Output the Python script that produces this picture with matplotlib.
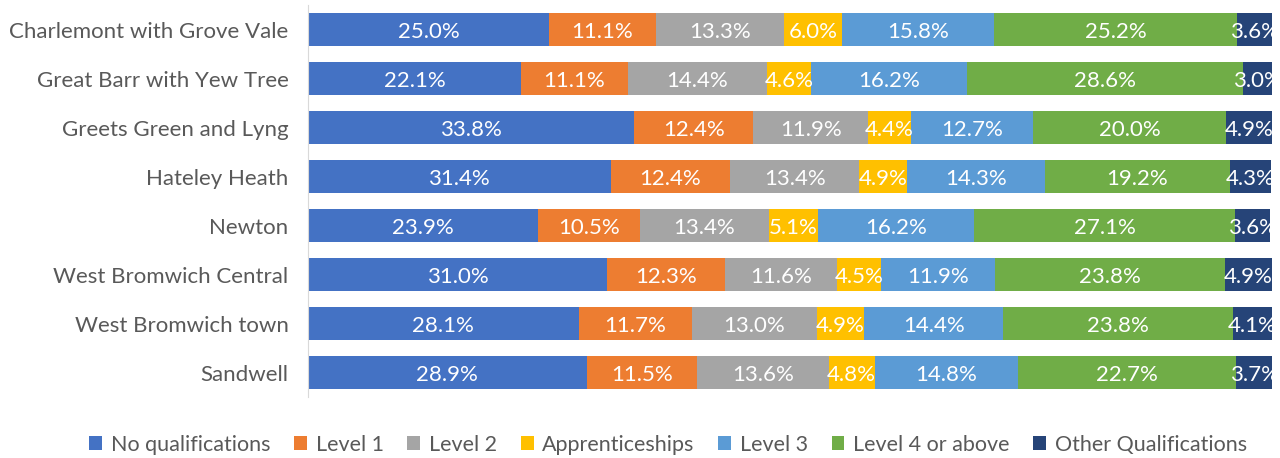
import matplotlib
matplotlib.use('Agg')
import matplotlib.pyplot as plt
import numpy as np

plt.rcParams['font.family'] = ['Lato', 'DejaVu Sans']

areas = ['Charlemont with Grove Vale', 'Great Barr with Yew Tree', 'Greets Green and Lyng',
         'Hateley Heath', 'Newton', 'West Bromwich Central', 'West Bromwich town', 'Sandwell']
series = ['No qualifications', 'Level 1', 'Level 2', 'Apprenticeships',
          'Level 3', 'Level 4 or above', 'Other Qualifications']
no_qual = [25.0, 22.1, 33.8, 31.4, 23.9, 31.0, 28.1, 28.9]
level1 = [11.1, 11.1, 12.4, 12.4, 10.5, 12.3, 11.7, 11.5]
level2 = [13.3, 14.4, 11.9, 13.4, 13.4, 11.6, 13.0, 13.6]
apprent = [6.0, 4.6, 4.4, 4.9, 5.1, 4.5, 4.9, 4.8]
level3 = [15.8, 16.2, 12.7, 14.3, 16.2, 11.9, 14.4, 14.8]
level4 = [25.2, 28.6, 20.0, 19.2, 27.1, 23.8, 23.8, 22.7]
other = [3.6, 3.0, 4.9, 4.3, 3.6, 4.9, 4.1, 3.7]
colors = ['#4472C4', '#ED7D31', '#A5A5A5', '#FFC000', '#5B9BD5', '#70AD47', '#264478']

data = [no_qual, level1, level2, apprent, level3, level4, other]

fig = plt.figure(figsize=(12.8, 4.58), dpi=100)
ax = fig.add_axes([0.2406, 0.133, 0.7532, 0.856])

y = np.arange(len(areas))
left = np.zeros(len(areas))
for vals, name, col in zip(data, series, colors):
    vals = np.array(vals)
    bars = ax.barh(y, vals, left=left, height=0.66, color=col, label=name)
    for yi, l, v in zip(y, left, vals):
        ax.text(l + v / 2, yi, '%.1f%%' % v, ha='center', va='center_baseline',
                color='white', fontsize=16)
    left = left + vals

ax.set_xlim(0, 100)
ax.set_ylim(len(areas) - 0.5, -0.5)
ax.set_yticks(y)
ax.set_yticklabels(areas, fontsize=16, color='#595959')
ax.tick_params(axis='y', length=0, pad=14)
ax.set_xticks([])
for s in ['top', 'right', 'bottom']:
    ax.spines[s].set_visible(False)
ax.spines['left'].set_color('#D9D9D9')

fig.legend(loc='lower center', bbox_to_anchor=(0.522, -0.035), ncol=7, frameon=False,
           fontsize=15.5, handlelength=0.6, handleheight=0.6, handletextpad=0.4,
           columnspacing=1.1, labelcolor='#595959')

fig.savefig('out.png', dpi=100)
